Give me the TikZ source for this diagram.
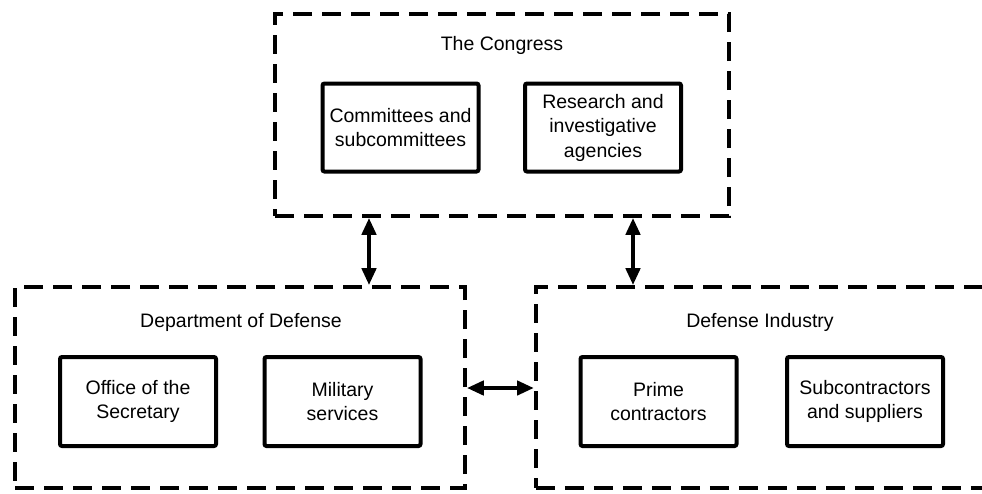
\documentclass[tikz,border=0pt]{standalone}
\usepackage{fontspec}
\setmainfont{Liberation Sans}
\usetikzlibrary{arrows.meta}
\begin{document}
\begin{tikzpicture}[x=1pt,y=-1pt,
  every node/.style={font=\fontsize{19.5}{24.5}\selectfont},
  outerbox/.style={draw, line width=3.6pt, dash pattern=on 19pt off 10pt, inner sep=0pt},
  innerbox/.style={draw, line width=4pt, rounded corners=2pt, inner sep=0pt,
    minimum width=156pt, minimum height=88pt, align=center},
  title/.style={inner sep=0pt},
  dblarrow/.style={line width=4.5pt, {Triangle[length=17pt,width=14pt]}-{Triangle[length=17pt,width=14pt]}}
]
\useasboundingbox (0,0) rectangle (982,493);
\clip (0,0) rectangle (982,493);
% outer dashed groups
\node[outerbox, minimum width=454pt, minimum height=202pt] (congress) at (502,115) {};
\node[outerbox, minimum width=450pt, minimum height=201pt] (dod) at (240,387.5) {};
\node[outerbox, minimum width=500pt, minimum height=201pt, anchor=west] (ind) at (534,387.5) {};
% titles
\node[title] (tcong) at (502,45) {The Congress};
\node[title] (tdod) at (241,322) {Department of Defense};
\node[title] (tind) at (760,322) {Defense Industry};
% inner boxes
\node[innerbox] (comm) at (400.5,127.5) {Committees and\\subcommittees};
\node[innerbox] (res) at (603,127.5) {Research and\\investigative\\agencies};
\node[innerbox, minimum height=89pt] (off) at (138,401.5) {Office of the\\Secretary};
\node[innerbox, minimum height=89pt] (mil) at (342.5,401.5) {Military\\services};
\node[innerbox, minimum height=89pt] (prime) at (658.5,401.5) {Prime\\contractors};
\node[innerbox, minimum height=89pt] (sub) at (865,401.5) {Subcontractors\\and suppliers};
% connectors
\draw[dblarrow] (congress.south -| 369,0) -- (dod.north -| 369,0);
\draw[dblarrow] (congress.south -| 633,0) -- (ind.north -| 633,0);
\draw[dblarrow] (dod.east |- 0,388) -- (ind.west |- 0,388);
\end{tikzpicture}
\end{document}
